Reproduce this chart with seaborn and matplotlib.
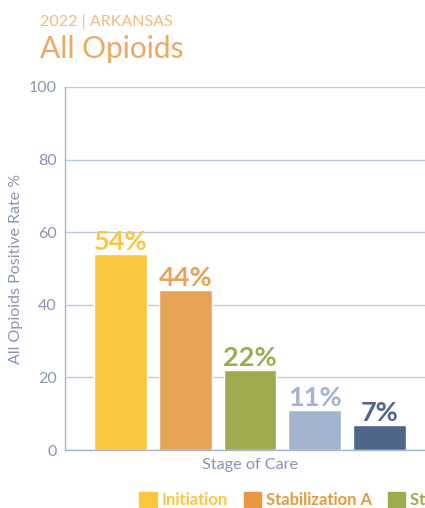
import matplotlib
matplotlib.use("Agg")
import matplotlib.pyplot as plt
import seaborn as sns
import pandas as pd

# values
stages = ["Initiation", "Stabilization A", "Stabilization B", "Maintenance", "Discontinuation"]
rates = [54, 44, 22, 11, 7]
colors = ["#F9C740", "#E8A456", "#A0AB50", "#A5B4CE", "#50658A"]
legend_colors = ["#FCC73F", "#E8993F", "#9FAB4F", "#A5B4CE", "#50658A"]
category = "Stage of Care"

df = pd.DataFrame({"Category": [category] * len(stages), "Stage": stages, "Rate": rates})

sns.set_theme(style="white")
plt.rcParams["font.family"] = ["Lato", "DejaVu Sans"]

grey = "#8A95AE"
grid_c = "#BCC8DC"

fig = plt.figure(figsize=(4.25, 5.08), dpi=100)
ax = fig.add_axes([65 / 425, 1 - 450 / 508, (435 - 65) / 425, (450 - 87) / 508])

plot = sns.barplot(data=df, x="Category", y="Rate", hue="Stage", hue_order=stages,
                   palette=colors, width=0.873, gap=0.18, saturation=1,
                   errorbar=None, legend=False, ax=ax)

for cont, col in zip(ax.containers, colors):
    ax.bar_label(cont, labels=[f"{v:.0f}%" for v in cont.datavalues], color=col,
                 fontsize=19.5, fontweight="bold", padding=0)

ax.set_ylim(0, 100)
ax.set_yticks(range(0, 101, 20))
ax.yaxis.grid(True, color=grid_c, linewidth=1)
ax.set_axisbelow(True)
ax.tick_params(axis="both", colors=grey, labelsize=11.5, length=0, pad=6)
ax.tick_params(axis="x", labelsize=11.7, pad=6)
ax.set_xlabel("")
ax.set_ylabel("All Opioids Positive Rate %", color=grey, fontsize=11.5, labelpad=4)
for side in ["top", "right"]:
    ax.spines[side].set_visible(False)
for side in ["left", "bottom"]:
    ax.spines[side].set_color("#A6B4CC")
    ax.spines[side].set_linewidth(1)

fig.text(40 / 425, 1 - 26 / 508, "2022 | ARKANSAS", color="#F2BB82", fontsize=11.5)
fig.text(40 / 425, 1 - 58 / 508, "All Opioids", color="#EDA862", fontsize=21.5)

handles = [plt.Rectangle((0, 0), 1, 1, color=c) for c in legend_colors]
leg = fig.legend(handles, stages, loc="upper left", bbox_to_anchor=(139 / 425, 1 - 492 / 508),
                 ncol=5, frameon=False, handlelength=1.05, handleheight=1.05,
                 borderpad=0, borderaxespad=0,
                 handletextpad=0.3, columnspacing=0.95, prop={"size": 12, "weight": "bold"})
for txt, c in zip(leg.get_texts(), legend_colors):
    txt.set_color(c)

fig.savefig("out.png", dpi=100)
